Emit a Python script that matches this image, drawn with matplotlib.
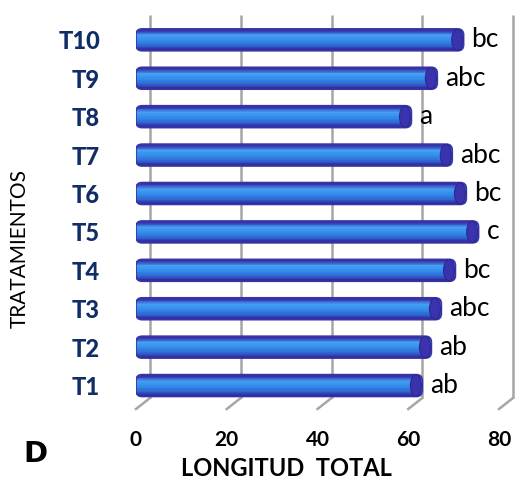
import numpy as np
import matplotlib.pyplot as plt
from matplotlib.colors import LinearSegmentedColormap
from matplotlib.patches import FancyBboxPatch, Ellipse, Rectangle
from matplotlib.transforms import ScaledTranslation, blended_transform_factory

# ── data ──────────────────────────────────────────────────────────────────────
tratamientos = ['T1', 'T2', 'T3', 'T4', 'T5', 'T6', 'T7', 'T8', 'T9', 'T10']
longitud = [63.1, 65.1, 67.3, 70.4, 75.5, 72.8, 69.7, 60.7, 66.4, 72.2]
letras = ['ab', 'ab', 'abc', 'bc', 'c', 'bc', 'abc', 'a', 'abc', 'bc']
xticks = [0, 20, 40, 60, 80]

plt.rcParams['font.family'] = ['Lato', 'DejaVu Sans']
NAVY = '#112d66'
GRID = '#a6a6a6'

W, H = 515, 480
fig = plt.figure(figsize=(W / 100, H / 100), dpi=100)
ax = fig.add_axes([136 / W, 71 / H, 363 / W, 383 / H])
XMIN, XMAX = 0, 80
YMIN, YMAX = -0.61, 9.36
ax.set_xlim(XMIN, XMAX)
ax.set_ylim(YMIN, YMAX)

# pixels per data unit, needed to keep the rounded ends circular
px_x = 363 / (XMAX - XMIN)
px_y = 383 / (YMAX - YMIN)

# ── back wall gridlines + floor diagonals (fake 3-D depth) ───────────────────
dx, dy = 14, 11
shift = ScaledTranslation(dx / 100, dy / 100, fig.dpi_scale_trans)
back = blended_transform_factory(ax.transData, ax.transAxes) + shift
front = blended_transform_factory(ax.transData, ax.transAxes)
for xv in xticks:
    ax.plot([xv, xv], [0, 1], transform=back, color=GRID, lw=1.8,
            zorder=1, clip_on=False, solid_capstyle='butt')
    # floor diagonal: back wall foot -> front edge
    p_back = back.transform((xv, 0))
    p_front = front.transform((xv, 0))
    ax.plot([p_back[0], p_front[0]], [p_back[1], p_front[1]], transform=None,
            color=GRID, lw=1.8, zorder=1, clip_on=False)

# ── cylinder-like bars: thin colour strips clipped to a rounded outline ──────
cmap = LinearSegmentedColormap.from_list('cyl', [
    (0.00, '#2c2890'), (0.12, '#3a3cb6'), (0.30, '#44a0f2'),
    (0.55, '#338ae8'), (0.78, '#2d66d4'), (0.92, '#3234a8'), (1.00, '#29258a')])
n_strips = 28

h = 0.57
r_px = 6
for i, v in enumerate(longitud):
    outline = FancyBboxPatch((0, i - h / 2), v, h,
                             boxstyle=f'round,pad=0,rounding_size={r_px / px_x}',
                             mutation_aspect=px_x / px_y,
                             facecolor='none', edgecolor='#3a34a6', lw=1.2, zorder=3)
    ax.add_patch(outline)
    edges = np.linspace(i + h / 2, i - h / 2, n_strips + 1)
    dh = h / n_strips
    for k in range(n_strips):
        strip = Rectangle((0, edges[k + 1]), v, dh * 1.3,
                          facecolor=cmap((k + 0.5) / n_strips), edgecolor='none',
                          antialiased=False, zorder=2)
        ax.add_patch(strip)
        strip.set_clip_path(outline)
    cap_w = 11 / px_x
    ax.add_patch(Ellipse((v - cap_w / 2 - 0.2, i), cap_w, h * 0.96,
                         facecolor='#3a33ad', edgecolor='#2c2890', lw=0.8, zorder=4))
    ax.annotate(letras[i], xy=(v, i), xytext=(8, 0), textcoords='offset pixels',
                ha='left', va='center', fontsize=19, color='black', zorder=5)

ax.set_xlim(XMIN, XMAX)
ax.set_ylim(YMIN, YMAX)

# ── axes styling ─────────────────────────────────────────────────────────────
ax.patch.set_visible(False)
for s in ax.spines.values():
    s.set_visible(False)
ax.set_xticks(xticks)
ax.set_xticklabels([str(t) for t in xticks], fontsize=15, fontweight='bold')
ax.set_yticks(range(len(tratamientos)))
ax.set_yticklabels(tratamientos, fontsize=17, fontweight='black', color=NAVY)
ax.tick_params(axis='both', length=0)
ax.tick_params(axis='x', pad=15)
ax.tick_params(axis='y', pad=26)

ax.set_xlabel('LONGITUD  TOTAL', fontsize=17, fontweight='bold')
ax.xaxis.set_label_coords((286 - 136) / 363, -0.125)
fig.text(20 / W, 1 - 248 / H, 'TRATAMIENTOS', rotation=90, fontsize=15,
         ha='center', va='center')
fig.text(35 / W, 1 - 454 / H, 'D', fontsize=21, fontweight='black',
         family='DejaVu Sans', ha='center', va='center')

fig.savefig('out.png', dpi=100)
